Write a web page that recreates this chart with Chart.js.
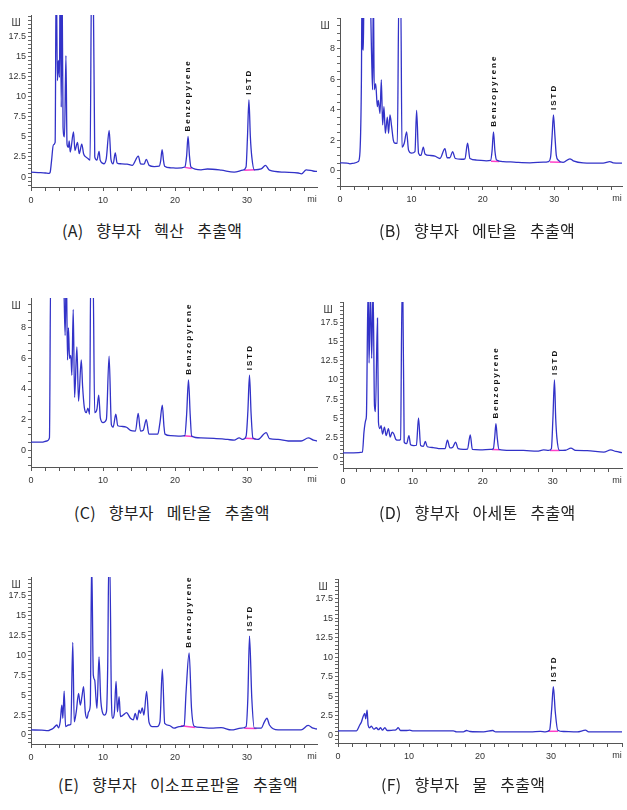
<!DOCTYPE html>
<html>
<head>
<meta charset="utf-8">
<script src="https://cdn.jsdelivr.net/npm/chart.js@4.4.1/dist/chart.umd.min.js"></script>
<style>
  body { margin: 0; background: #fff; }
  #page { position: relative; width: 627px; height: 810px; overflow: hidden; }
  #page canvas { position: absolute; }
  .cap {
    position: absolute;
    font-family: 'Noto Sans CJK KR', sans-serif;
    font-size: 16px;
    line-height: 18px;
    letter-spacing: 0.3px;
    word-spacing: 9px;
    color: #222;
    white-space: nowrap;
  }
</style>
</head>
<body>
<div id="page"></div>
<script>
// [retention time (min), signal]; 22+ = peak runs off the top
const traceA = [[0,0.6],[1,0.55],[2,0.5],[2.5,0.45],[2.65,0.55],[2.85,2.0],[3.1,4.0],[3.35,4.3],[3.5,26],[3.67,12],[3.8,14.5],[3.95,12.4],[4.05,26],[4.2,8.7],[4.3,26],[4.45,6.2],[4.65,5.0],[4.85,15.1],[5.0,4.1],[5.2,3.7],[5.3,4.5],[5.45,3.1],[5.9,5.6],[6.1,3.3],[6.45,4.3],[6.7,2.9],[7.05,4.1],[7.3,2.9],[7.6,2.5],[7.9,2.3],[8.2,2.1],[8.42,26],[8.62,26],[8.85,2.5],[9.15,2.1],[9.45,3.2],[9.6,2.1],[10.1,1.65],[10.45,2.3],[10.85,5.8],[11.1,2.2],[11.4,1.65],[11.7,3.0],[11.95,1.75],[12.4,1.65],[13.35,1.6],[14.05,1.45],[14.9,2.6],[15.2,1.65],[15.7,1.6],[16.0,2.2],[16.4,1.45],[17.1,1.3],[17.8,1.35],[18.0,2.0],[18.2,3.4],[18.4,2.0],[18.55,1.35],[19.4,1.15],[20.3,1.1],[21.35,1.25],[21.6,2.6],[21.8,5.05],[22.0,2.6],[22.2,1.25],[23.6,0.9],[24.5,1.0],[26.4,0.85],[28.2,0.6],[29.4,0.85],[29.85,1.25],[30.05,5.0],[30.25,9.6],[30.45,5.0],[30.65,2.5],[31.0,0.9],[31.95,1.0],[32.55,1.45],[33.1,0.85],[35.2,0.6],[37.1,0.5],[37.55,0.4],[38.2,0.9],[39.15,0.75],[39.7,0.7]];
const traceB = [[0,0.52],[1,0.5],[1.4,0.45],[2,0.5],[2.57,0.6],[2.8,1.25],[3.0,6],[3.08,12],[3.17,8.1],[3.27,7.9],[3.36,12],[4.2,12],[4.43,7.45],[4.57,5.3],[4.67,12],[4.8,5.3],[5.0,5.7],[5.23,4.2],[5.37,4.6],[5.6,3.75],[5.79,5.95],[5.97,3.0],[6.16,4.2],[6.35,2.45],[6.63,3.5],[6.8,2.45],[7.0,3.65],[7.23,2.9],[7.47,2.0],[7.7,1.8],[8.03,1.8],[8.26,12],[8.5,12],[8.68,1.55],[9.0,1.8],[9.33,2.55],[9.6,1.35],[10.03,1.15],[10.5,1.25],[10.73,3.95],[11.0,1.15],[11.34,1.0],[11.67,1.55],[11.9,1.1],[12.6,1.0],[13.3,0.95],[14.0,0.8],[14.7,1.45],[15.0,0.85],[15.4,0.85],[15.77,1.25],[16.15,0.8],[17.0,0.75],[17.5,0.78],[17.87,1.8],[18.2,0.8],[19.13,0.7],[20.5,0.65],[21.1,0.68],[21.3,1.3],[21.5,2.55],[21.7,1.3],[21.93,0.7],[22.87,0.6],[24.7,0.55],[26.6,0.52],[28.5,0.56],[29.2,0.6],[29.5,0.9],[29.7,2.2],[29.9,3.65],[30.1,2.3],[30.3,1.0],[30.56,0.7],[31.26,0.55],[32.2,0.78],[32.67,0.65],[34.06,0.52],[36.86,0.5],[37.8,0.6],[38.26,0.52],[39.5,0.5]];
const traceC = [[0,0.53],[1.5,0.52],[2.2,0.6],[2.56,0.8],[2.74,12],[4.5,12],[4.6,10],[4.74,7.5],[4.9,12],[5.07,5.9],[5.2,8.0],[5.35,6.0],[5.53,6.2],[5.67,4.9],[5.86,9.2],[6.05,3.45],[6.37,6.75],[6.6,3.2],[6.98,5.9],[7.16,4.2],[7.4,2.8],[7.67,2.45],[7.9,2.75],[8.14,2.35],[8.3,12],[8.6,12],[8.84,2.45],[9.16,2.7],[9.4,3.6],[9.63,2.1],[10.0,1.8],[10.46,2.0],[10.84,6.15],[11.16,1.65],[11.4,1.5],[11.77,2.35],[12.05,1.6],[12.65,1.55],[13.26,1.5],[13.8,1.3],[14.5,1.25],[14.88,2.4],[15.2,1.25],[15.58,1.3],[16.0,2.0],[16.37,1.05],[17.07,1.05],[17.6,1.05],[17.9,1.8],[18.23,2.95],[18.45,1.6],[18.6,1.05],[19.4,0.95],[20.8,0.92],[21.35,0.95],[21.6,2.3],[21.86,4.6],[22.1,2.3],[22.3,0.92],[23.6,0.8],[25.4,0.77],[27.3,0.7],[28.2,0.66],[28.9,0.8],[29.4,0.7],[29.86,0.92],[30.1,2.5],[30.33,4.9],[30.55,2.4],[30.8,0.8],[31.5,0.7],[32.65,1.15],[33.1,0.75],[34.3,0.7],[35.7,0.6],[37.5,0.6],[38.5,0.8],[39.2,0.66],[39.7,0.6]];
const traceD = [[0,0.55],[1.5,0.55],[2.78,0.65],[3.0,3.25],[3.25,4.8],[3.35,5.4],[3.59,22],[3.73,12.2],[3.92,22],[4.1,12.8],[4.3,22],[4.5,6.7],[4.64,5.9],[4.93,18.0],[5.07,4.55],[5.26,3.7],[5.45,4.1],[5.65,3.0],[5.93,3.9],[6.17,2.8],[6.5,3.7],[6.75,2.6],[7.03,3.25],[7.27,3.0],[7.56,2.3],[7.9,2.2],[8.23,2.3],[8.45,22],[8.55,22],[8.75,1.95],[9.1,1.75],[9.43,2.8],[9.67,1.6],[10.14,1.5],[10.5,1.55],[10.8,5.1],[11.1,1.5],[11.5,1.4],[11.77,2.05],[12.06,1.35],[12.9,1.25],[13.9,1.1],[14.6,1.1],[14.93,2.2],[15.3,1.2],[15.7,1.3],[16.1,1.95],[16.46,1.1],[17.2,1.0],[17.8,1.05],[18.2,2.9],[18.5,1.0],[19.6,0.95],[21.05,1.0],[21.5,1.1],[21.7,2.6],[21.87,4.35],[22.05,2.6],[22.3,1.0],[23.9,0.87],[25.8,0.87],[27.75,0.78],[28.7,0.95],[29.4,0.87],[29.8,1.1],[30.02,5.0],[30.24,10.0],[30.42,5.0],[30.6,2.4],[30.95,0.87],[31.8,0.9],[32.6,1.17],[33.25,0.87],[34.9,0.85],[37.3,0.65],[38.3,0.95],[39.0,0.74],[39.9,0.6]];
const traceE = [[0,0.63],[1.5,0.6],[2.4,0.55],[2.65,0.63],[3.1,0.85],[3.6,1.25],[3.8,0.9],[4.05,1.65],[4.28,3.75],[4.42,2.1],[4.6,5.5],[4.8,1.05],[5.2,1.25],[5.53,1.35],[5.8,11.6],[6.0,1.65],[6.28,2.9],[6.6,5.2],[6.84,3.75],[7.07,4.8],[7.3,6.05],[7.53,2.9],[7.77,2.1],[8.0,2.9],[8.23,3.75],[8.42,22],[8.65,7.5],[8.84,6.9],[9.02,4.6],[9.16,3.35],[9.44,9.8],[9.67,4.6],[9.9,2.9],[10.2,2.5],[10.47,2.9],[10.65,8.8],[10.8,22],[10.93,22],[11.16,4.6],[11.35,2.1],[11.58,2.9],[11.81,6.7],[12.0,2.9],[12.23,4.8],[12.42,2.3],[12.8,2.5],[13.26,2.8],[13.8,2.1],[14.2,1.9],[14.47,2.7],[14.74,1.9],[15.0,3.1],[15.2,2.7],[15.44,3.4],[15.67,2.5],[16.05,5.45],[16.37,1.65],[16.84,1.05],[17.5,1.05],[17.9,1.65],[18.23,8.25],[18.56,1.45],[19.16,1.2],[19.86,0.85],[20.56,1.05],[21.26,1.2],[21.53,5.45],[21.95,10.3],[22.28,3.35],[22.65,1.1],[23.6,0.95],[25.0,0.85],[26.4,0.92],[27.8,0.63],[29.16,0.85],[29.86,1.05],[30.1,4.6],[30.33,12.4],[30.65,4.6],[31.0,0.85],[31.95,0.85],[32.4,1.65],[32.75,2.1],[33.1,1.25],[34.3,0.63],[35.7,0.63],[37.5,0.63],[38.47,1.2],[39.16,0.85],[39.7,0.75]];
const traceF = [[0,0.55],[2.6,0.55],[2.83,0.85],[3.06,1.3],[3.3,1.7],[3.53,2.35],[3.77,2.8],[3.9,2.1],[4.1,3.2],[4.24,1.3],[4.47,0.95],[4.7,1.15],[5.04,0.77],[5.4,0.95],[5.7,0.7],[6.0,0.95],[6.26,0.64],[6.6,0.95],[6.92,0.6],[7.77,0.64],[8.15,0.68],[8.48,0.95],[8.8,0.6],[9.65,0.6],[10.1,0.64],[10.6,0.55],[12.5,0.55],[14.8,0.55],[16.25,0.55],[16.7,0.43],[17.66,0.43],[18.1,0.6],[18.6,0.47],[20.5,0.43],[21.8,0.6],[22.2,0.43],[24.26,0.43],[27.1,0.43],[28.5,0.5],[29.2,0.43],[29.8,0.64],[30.1,3.4],[30.33,6.2],[30.6,3.0],[30.95,0.64],[31.8,0.47],[33.7,0.43],[34.86,0.64],[35.3,0.43],[38.4,0.43],[40,0.43]];

// named peaks: [label, time, apex]
const peaksA = [['Benzopyrene', 21.8, 5.05], ['ISTD', 30.25, 9.6]];
const peaksB = [['Benzopyrene', 21.5, 2.55], ['ISTD', 29.9, 3.65]];
const peaksC = [['Benzopyrene', 21.86, 4.6], ['ISTD', 30.33, 4.9]];
const peaksD = [['Benzopyrene', 21.87, 4.35], ['ISTD', 30.24, 10.0]];
const peaksE = [['Benzopyrene', 21.95, 10.3], ['ISTD', 30.33, 12.4]];
const peaksF = [['ISTD', 30.33, 6.2]];

// integration baselines: [t1, y1, t2, y2]
const baseA = [[21.35, 1.2, 22.3, 1.05], [29.6, 0.85, 31.1, 0.9]];
const baseB = [[21.15, 0.62, 22.3, 0.6], [29.4, 0.57, 30.9, 0.55]];
const baseC = [[21.2, 0.95, 22.4, 0.9], [29.7, 0.78, 31.2, 0.75]];
const baseD = [[21.3, 1.0, 22.4, 0.95], [29.6, 0.87, 31.0, 0.87]];
const baseE = [[20.8, 1.15, 22.8, 0.95], [29.6, 0.85, 31.3, 0.8]];
const baseF = [[29.6, 0.5, 31.0, 0.5]];

const xTickLabels = [0, 10, 20, 30];
const yTicksWide = [0, 2.5, 5, 7.5, 10, 12.5, 15, 17.5];
const yTicksNarrow = [0, 2, 4, 6, 8];

const captions = [
  '(A) 향부자 헥산 추출액',
  '(B) 향부자 에탄올 추출액',
  '(C) 향부자 메탄올 추출액',
  '(D) 향부자 아세톤 추출액',
  '(E) 향부자 이소프로판올 추출액',
  '(F) 향부자 물 추출액'
];

// plot boxes on the page: [left, top, right, bottom], plus axis ranges
const panels = [
  { trace: traceA, peaks: peaksA, base: baseA, yTicks: yTicksWide,   box: [31, 15, 317, 187],  xMax: 39.7, yMin: -1.24, yMax: 20.15, cap: [62, 221] },
  { trace: traceB, peaks: peaksB, base: baseB, yTicks: yTicksNarrow, box: [340, 18, 622, 186], xMax: 39.5, yMin: -1.0,  yMax: 10.0,  cap: [379, 221] },
  { trace: traceC, peaks: peaksC, base: baseC, yTicks: yTicksNarrow, box: [31, 298, 317, 467], xMax: 39.7, yMin: -1.1,  yMax: 9.95,  cap: [74, 503] },
  { trace: traceD, peaks: peaksD, base: baseD, yTicks: yTicksWide,   box: [343, 302, 622, 468], xMax: 39.9, yMin: -1.4,  yMax: 20.1,  cap: [379, 503] },
  { trace: traceE, peaks: peaksE, base: baseE, yTicks: yTicksWide,   box: [31, 577, 317, 744], xMax: 39.7, yMin: -1.13, yMax: 19.8,  cap: [58, 775] },
  { trace: traceF, peaks: peaksF, base: baseF, yTicks: yTicksWide,   box: [338, 579, 622, 743], xMax: 40.0, yMin: -1.0,  yMax: 20.0,  cap: [381, 775] }
];

const page = document.getElementById('page');
const tickFont = { family: "'Liberation Sans Narrow', 'Liberation Sans', Arial, sans-serif", size: 9 };
const PAD_L = 34, PAD_T = 12, PAD_R = 8, PAD_B = 24;

// peak names, y unit and x unit drawn on top of the traces
function annotate(p) {
  return {
    id: 'annot',
    afterDatasetsDraw(chart) {
      const { ctx, chartArea, scales } = chart;
      ctx.save();
      ctx.fillStyle = '#111';
      ctx.font = 'bold 8px "Liberation Sans", Arial, sans-serif';
      ctx.letterSpacing = '2px';
      ctx.textAlign = 'left';
      ctx.textBaseline = 'middle';
      p.peaks.forEach(([name, t, h]) => {
        const x = scales.x.getPixelForValue(t);
        const y = scales.y.getPixelForValue(h) - 5;
        ctx.save();
        ctx.translate(x, y);
        ctx.rotate(-Math.PI / 2);
        ctx.fillText(name, 0, 0);
        ctx.restore();
      });
      ctx.letterSpacing = '0px';
      ctx.fillStyle = '#333';
      ctx.font = '10px "Liberation Sans", Arial, sans-serif';
      ctx.textAlign = 'center';
      ctx.fillText('Ш', chartArea.left - 15, chartArea.top + 8);
      ctx.font = '9px "Liberation Sans", Arial, sans-serif';
      ctx.fillText('mi', chartArea.right - 5, chartArea.bottom + 13);
      ctx.restore();
    }
  };
}

// tick marks on every step inside the range
function stepTicks(step) {
  return (scale) => {
    const ticks = [];
    for (let k = Math.ceil(scale.min / step - 1e-9); k * step <= scale.max + 1e-9; k++) {
      ticks.push({ value: Math.round(k * step * 1000) / 1000 });
    }
    scale.ticks = ticks;
  };
}

function showIf(list) {
  return (v) => {
    const r = Math.round(v * 1000) / 1000;
    return list.includes(r) ? String(r) : '';
  };
}

panels.forEach((p, i) => {
  const [l, t, r, b] = p.box;
  const canvas = document.createElement('canvas');
  canvas.width = r - l + PAD_L + PAD_R;
  canvas.height = b - t + PAD_T + PAD_B;
  canvas.style.left = (l - PAD_L) + 'px';
  canvas.style.top = (t - PAD_T) + 'px';
  page.appendChild(canvas);

  const cap = document.createElement('div');
  cap.className = 'cap';
  cap.textContent = captions[i];
  cap.style.left = p.cap[0] + 'px';
  cap.style.top = p.cap[1] + 'px';
  page.appendChild(cap);

  const datasets = [{
    data: p.trace.map(([x, y]) => ({ x, y })),
    borderColor: '#3232c8',
    borderWidth: 1.3,
    pointRadius: 0,
    cubicInterpolationMode: 'monotone'
  }];
  p.base.forEach(([x1, y1, x2, y2]) => {
    datasets.push({
      data: [{ x: x1, y: y1 }, { x: x2, y: y2 }],
      borderColor: '#ff40c8',
      borderWidth: 1.5,
      pointRadius: 0
    });
  });

  new Chart(canvas, {
    type: 'line',
    data: { datasets },
    plugins: [annotate(p)],
    options: {
      responsive: false,
      animation: false,
      devicePixelRatio: 1,
      events: [],
      layout: { padding: { left: 0, top: PAD_T, right: PAD_R, bottom: 0 } },
      plugins: { legend: { display: false }, tooltip: { enabled: false } },
      scales: {
        x: {
          type: 'linear',
          min: 0,
          max: p.xMax,
          afterFit: (s) => { s.height = PAD_B; },
          afterBuildTicks: stepTicks(2),
          ticks: {
            autoSkip: false,
            maxRotation: 0,
            padding: 4,
            color: '#333',
            font: tickFont,
            callback: showIf(xTickLabels)
          },
          grid: { drawOnChartArea: false, tickLength: 4, tickColor: '#555' },
          border: { color: '#555', width: 1 }
        },
        y: {
          min: p.yMin,
          max: p.yMax,
          afterFit: (s) => { s.width = PAD_L; },
          afterBuildTicks: stepTicks(0.5),
          ticks: {
            autoSkip: false,
            padding: 2,
            color: '#333',
            font: tickFont,
            callback: showIf(p.yTicks)
          },
          grid: { drawOnChartArea: false, tickLength: 3, tickColor: '#666' },
          border: { color: '#555', width: 1 }
        }
      }
    }
  });
});
</script>
</body>
</html>
